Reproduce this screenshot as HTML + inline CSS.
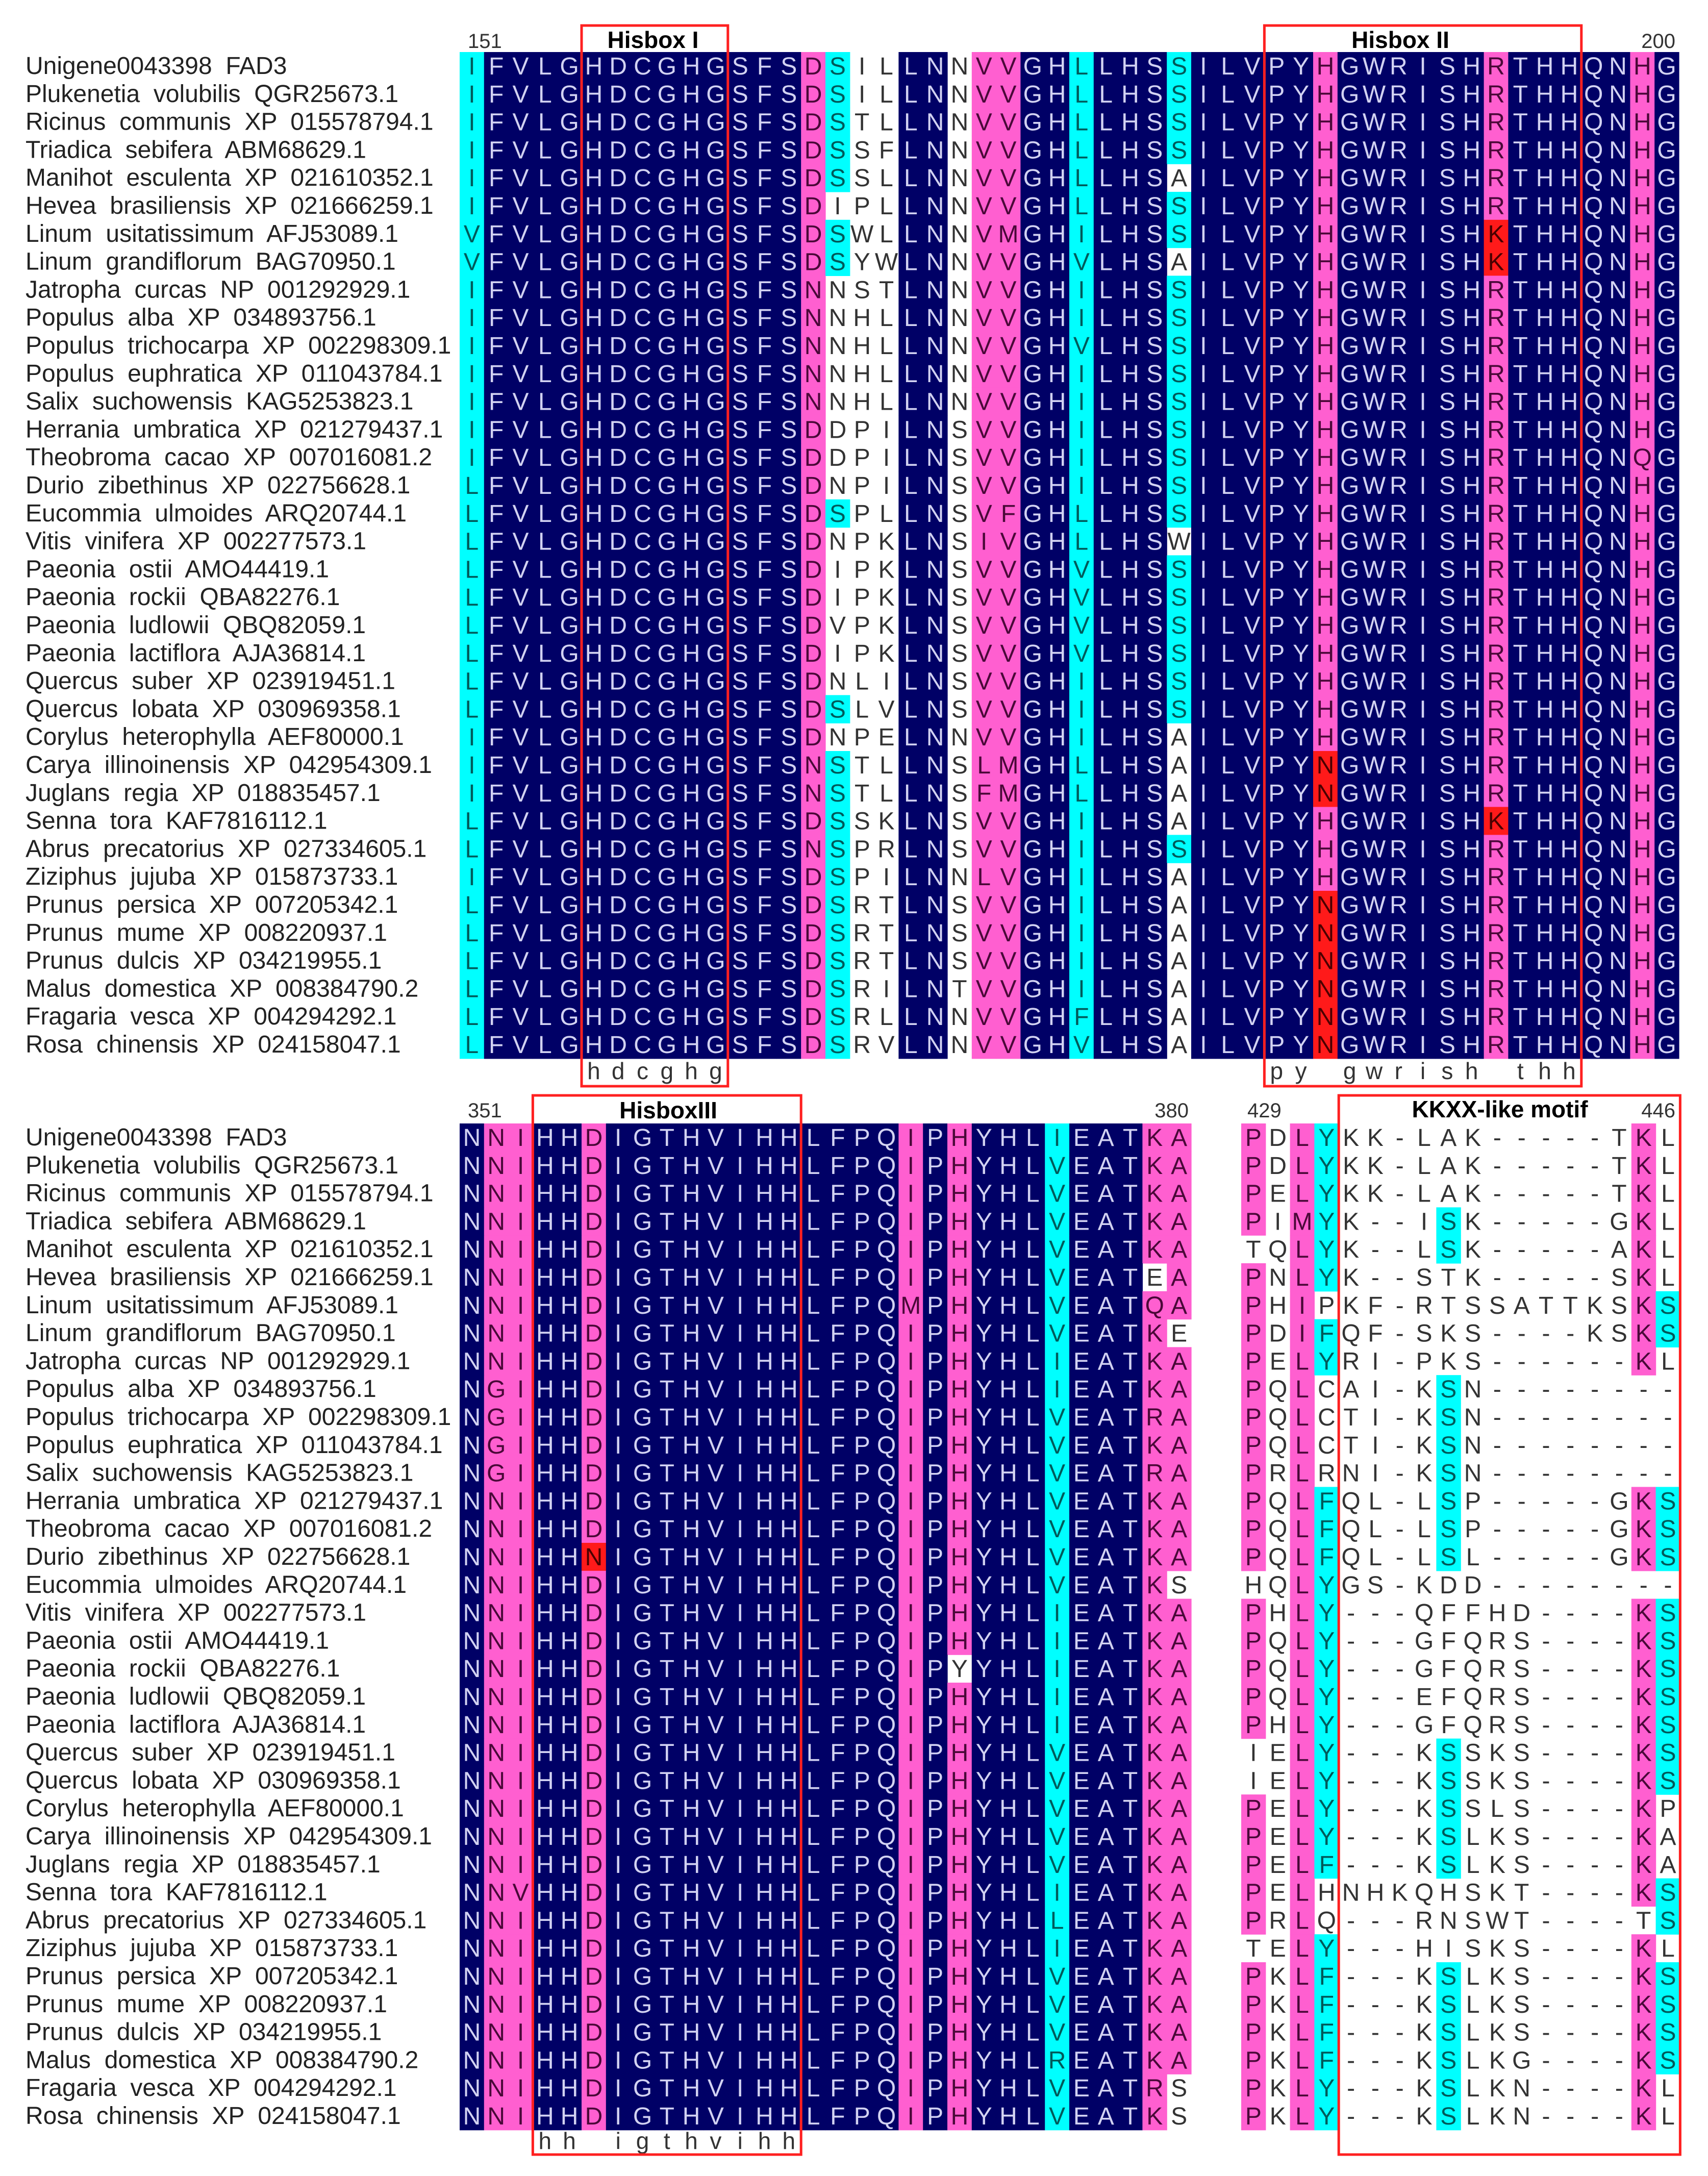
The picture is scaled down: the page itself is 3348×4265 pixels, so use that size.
<!DOCTYPE html>
<html><head><meta charset="utf-8"><title>FAD3 alignment</title>
<style>
html,body{margin:0;padding:0;background:#fff;}
svg{display:block;}
</style></head>
<body>
<svg id="fig" xmlns="http://www.w3.org/2000/svg" width="3348" height="4265" viewBox="0 0 3348 4265">
<rect x="0" y="0" width="3348" height="4265" fill="#ffffff"/>
<g id="cells"></g>
<g id="labels"></g>
<g id="boxes"></g>
</svg>
<script>
const names = [
"Unigene0043398  FAD3","Plukenetia  volubilis  QGR25673.1","Ricinus  communis  XP  015578794.1",
"Triadica  sebifera  ABM68629.1","Manihot  esculenta  XP  021610352.1","Hevea  brasiliensis  XP  021666259.1",
"Linum  usitatissimum  AFJ53089.1","Linum  grandiflorum  BAG70950.1","Jatropha  curcas  NP  001292929.1",
"Populus  alba  XP  034893756.1","Populus  trichocarpa  XP  002298309.1","Populus  euphratica  XP  011043784.1",
"Salix  suchowensis  KAG5253823.1","Herrania  umbratica  XP  021279437.1","Theobroma  cacao  XP  007016081.2",
"Durio  zibethinus  XP  022756628.1","Eucommia  ulmoides  ARQ20744.1","Vitis  vinifera  XP  002277573.1",
"Paeonia  ostii  AMO44419.1","Paeonia  rockii  QBA82276.1","Paeonia  ludlowii  QBQ82059.1",
"Paeonia  lactiflora  AJA36814.1","Quercus  suber  XP  023919451.1","Quercus  lobata  XP  030969358.1",
"Corylus  heterophylla  AEF80000.1","Carya  illinoinensis  XP  042954309.1","Juglans  regia  XP  018835457.1",
"Senna  tora  KAF7816112.1","Abrus  precatorius  XP  027334605.1","Ziziphus  jujuba  XP  015873733.1",
"Prunus  persica  XP  007205342.1","Prunus  mume  XP  008220937.1","Prunus  dulcis  XP  034219955.1",
"Malus  domestica  XP  008384790.2","Fragaria  vesca  XP  004294292.1","Rosa  chinensis  XP  024158047.1"];

const seqTop = [
"IFVLGHDCGHGSFSDSILLNNVVGHLLHSSILVPYHGWRISHRTHHQNHG",
"IFVLGHDCGHGSFSDSILLNNVVGHLLHSSILVPYHGWRISHRTHHQNHG",
"IFVLGHDCGHGSFSDSTLLNNVVGHLLHSSILVPYHGWRISHRTHHQNHG",
"IFVLGHDCGHGSFSDSSFLNNVVGHLLHSSILVPYHGWRISHRTHHQNHG",
"IFVLGHDCGHGSFSDSSLLNNVVGHLLHSAILVPYHGWRISHRTHHQNHG",
"IFVLGHDCGHGSFSDIPLLNNVVGHLLHSSILVPYHGWRISHRTHHQNHG",
"VFVLGHDCGHGSFSDSWLLNNVMGHILHSSILVPYHGWRISHKTHHQNHG",
"VFVLGHDCGHGSFSDSYWLNNVVGHVLHSAILVPYHGWRISHKTHHQNHG",
"IFVLGHDCGHGSFSNNSTLNNVVGHILHSSILVPYHGWRISHRTHHQNHG",
"IFVLGHDCGHGSFSNNHLLNNVVGHILHSSILVPYHGWRISHRTHHQNHG",
"IFVLGHDCGHGSFSNNHLLNNVVGHVLHSSILVPYHGWRISHRTHHQNHG",
"IFVLGHDCGHGSFSNNHLLNNVVGHILHSSILVPYHGWRISHRTHHQNHG",
"IFVLGHDCGHGSFSNNHLLNNVVGHILHSSILVPYHGWRISHRTHHQNHG",
"IFVLGHDCGHGSFSDDPILNSVVGHILHSSILVPYHGWRISHRTHHQNHG",
"IFVLGHDCGHGSFSDDPILNSVVGHILHSSILVPYHGWRISHRTHHQNQG",
"LFVLGHDCGHGSFSDNPILNSVVGHILHSSILVPYHGWRISHRTHHQNHG",
"LFVLGHDCGHGSFSDSPLLNSVFGHLLHSSILVPYHGWRISHRTHHQNHG",
"LFVLGHDCGHGSFSDNPKLNSIVGHLLHSWILVPYHGWRISHRTHHQNHG",
"LFVLGHDCGHGSFSDIPKLNSVVGHVLHSSILVPYHGWRISHRTHHQNHG",
"LFVLGHDCGHGSFSDIPKLNSVVGHVLHSSILVPYHGWRISHRTHHQNHG",
"LFVLGHDCGHGSFSDVPKLNSVVGHVLHSSILVPYHGWRISHRTHHQNHG",
"LFVLGHDCGHGSFSDIPKLNSVVGHVLHSSILVPYHGWRISHRTHHQNHG",
"LFVLGHDCGHGSFSDNLILNSVVGHILHSSILVPYHGWRISHRTHHQNHG",
"LFVLGHDCGHGSFSDSLVLNSVVGHILHSSILVPYHGWRISHRTHHQNHG",
"IFVLGHDCGHGSFSDNPELNNVVGHILHSAILVPYHGWRISHRTHHQNHG",
"IFVLGHDCGHGSFSNSTLLNSLMGHLLHSAILVPYNGWRISHRTHHQNHG",
"IFVLGHDCGHGSFSNSTLLNSFMGHLLHSAILVPYNGWRISHRTHHQNHG",
"LFVLGHDCGHGSFSDSSKLNSVVGHILHSAILVPYHGWRISHKTHHQNHG",
"LFVLGHDCGHGSFSNSPRLNSVVGHILHSSILVPYHGWRISHRTHHQNHG",
"IFVLGHDCGHGSFSDSPILNNLVGHILHSAILVPYHGWRISHRTHHQNHG",
"LFVLGHDCGHGSFSDSRTLNSVVGHILHSAILVPYNGWRISHRTHHQNHG",
"LFVLGHDCGHGSFSDSRTLNSVVGHILHSAILVPYNGWRISHRTHHQNHG",
"LFVLGHDCGHGSFSDSRTLNSVVGHILHSAILVPYNGWRISHRTHHQNHG",
"LFVLGHDCGHGSFSDSRILNTVVGHILHSAILVPYNGWRISHRTHHQNHG",
"LFVLGHDCGHGSFSDSRLLNNVVGHFLHSAILVPYNGWRISHRTHHQNHG",
"LFVLGHDCGHGSFSDSRVLNNVVGHVLHSAILVPYNGWRISHRTHHQNHG"];

const seqMid = [
"NNIHHDIGTHVIHHLFPQIPHYHLIEATKA","NNIHHDIGTHVIHHLFPQIPHYHLVEATKA","NNIHHDIGTHVIHHLFPQIPHYHLVEATKA",
"NNIHHDIGTHVIHHLFPQIPHYHLVEATKA","NNIHHDIGTHVIHHLFPQIPHYHLVEATKA","NNIHHDIGTHVIHHLFPQIPHYHLVEATEA",
"NNIHHDIGTHVIHHLFPQMPHYHLVEATQA","NNIHHDIGTHVIHHLFPQIPHYHLVEATKE","NNIHHDIGTHVIHHLFPQIPHYHLIEATKA",
"NGIHHDIGTHVIHHLFPQIPHYHLIEATKA","NGIHHDIGTHVIHHLFPQIPHYHLVEATRA","NGIHHDIGTHVIHHLFPQIPHYHLVEATKA",
"NGIHHDIGTHVIHHLFPQIPHYHLVEATRA","NNIHHDIGTHVIHHLFPQIPHYHLVEATKA","NNIHHDIGTHVIHHLFPQIPHYHLVEATKA",
"NNIHHNIGTHVIHHLFPQIPHYHLVEATKA","NNIHHDIGTHVIHHLFPQIPHYHLVEATKS","NNIHHDIGTHVIHHLFPQIPHYHLIEATKA",
"NNIHHDIGTHVIHHLFPQIPHYHLIEATKA","NNIHHDIGTHVIHHLFPQIPYYHLIEATKA","NNIHHDIGTHVIHHLFPQIPHYHLIEATKA",
"NNIHHDIGTHVIHHLFPQIPHYHLIEATKA","NNIHHDIGTHVIHHLFPQIPHYHLVEATKA","NNIHHDIGTHVIHHLFPQIPHYHLVEATKA",
"NNIHHDIGTHVIHHLFPQIPHYHLVEATKA","NNIHHDIGTHVIHHLFPQIPHYHLVEATKA","NNIHHDIGTHVIHHLFPQIPHYHLVEATKA",
"NNVHHDIGTHVIHHLFPQIPHYHLIEATKA","NNIHHDIGTHVIHHLFPQIPHYHLLEATKA","NNIHHDIGTHVIHHLFPQIPHYHLIEATKA",
"NNIHHDIGTHVIHHLFPQIPHYHLVEATKA","NNIHHDIGTHVIHHLFPQIPHYHLVEATKA","NNIHHDIGTHVIHHLFPQIPHYHLVEATKA",
"NNIHHDIGTHVIHHLFPQIPHYHLREATKA","NNIHHDIGTHVIHHLFPQIPHYHLVEATRS","NNIHHDIGTHVIHHLFPQIPHYHLVEATKS"];

const seqEnd = [
"PDLYKK-LAK-----TKL","PDLYKK-LAK-----TKL","PELYKK-LAK-----TKL","PIMYK--ISK-----GKL",
"TQLYK--LSK-----AKL","PNLYK--STK-----SKL","PHIPKF-RTSSATTKSKS","PDIFQF-SKS----KSKS",
"PELYRI-PKS------KL","PQLCAI-KSN--------","PQLCTI-KSN--------","PQLCTI-KSN--------",
"PRLRNI-KSN--------","PQLFQL-LSP-----GKS","PQLFQL-LSP-----GKS","PQLFQL-LSL-----GKS",
"HQLYGS-KDD--------","PHLY---QFFHD----KS","PQLY---GFQRS----KS","PQLY---GFQRS----KS",
"PQLY---EFQRS----KS","PHLY---GFQRS----KS","IELY---KSSKS----KS","IELY---KSSKS----KS",
"PELY---KSSLS----KP","PELY---KSLKS----KA","PELF---KSLKS----KA","PELHNHKQHSKT----KS",
"PRLQ---RNSWT----TS","TELY---HISKS----KL","PKLF---KSLKS----KS","PKLF---KSLKS----KS",
"PKLF---KSLKS----KS","PKLF---KSLKG----KS","PKLY---KSLKN----KL","PKLY---KSLKN----KL"];

const consTop = "     hdcghg                      py gwrish thh    ";
const consMid = "   hh igthvihh                ";
const posLabels = ["151","200","351","380","429","446"];
const boxTitles = ["Hisbox I","Hisbox II","HisboxIII","KKXX-like motif"];

const NS="http://www.w3.org/2000/svg";
const NAVY="#000066", MAG="#ff5fd0", CYAN="#00ffff", RED="#ff1a1a", WHITE="#ffffff";
const CW=47.8, RH=54.8;
const TOP={x0:901,y0:102}, MID={x0:901,y0:2202}, END={x0:2433,y0:2202};

function bgTop(c,ch){
  if(c===0) return CYAN;
  if(c>=1&&c<=13) return NAVY;
  if(c===14) return MAG;
  if(c===15) return ch==='S'?CYAN:WHITE;
  if(c===16||c===17||c===20) return WHITE;
  if(c===18||c===19) return NAVY;
  if(c===21||c===22) return MAG;
  if(c===23||c===24) return NAVY;
  if(c===25) return CYAN;
  if(c>=26&&c<=28) return NAVY;
  if(c===29) return ch==='S'?CYAN:WHITE;
  if(c>=30&&c<=34) return NAVY;
  if(c===35) return ch==='N'?RED:MAG;
  if(c>=36&&c<=41) return NAVY;
  if(c===42) return ch==='K'?RED:MAG;
  if(c>=43&&c<=47) return NAVY;
  if(c===48) return MAG;
  return NAVY;
}
function bgMid(c,ch){
  if(c===0) return NAVY;
  if(c===1||c===2) return MAG;
  if(c===3||c===4) return NAVY;
  if(c===5) return ch==='N'?RED:MAG;
  if(c>=6&&c<=17) return NAVY;
  if(c===18) return MAG;
  if(c===19) return NAVY;
  if(c===20) return ch==='H'?MAG:WHITE;
  if(c>=21&&c<=23) return NAVY;
  if(c===24) return CYAN;
  if(c>=25&&c<=27) return NAVY;
  if(c===28) return ch==='E'?WHITE:MAG;
  if(c===29) return ch==='A'?MAG:WHITE;
  return NAVY;
}
function bgEnd(c,ch){
  if(c===0) return ch==='P'?MAG:WHITE;
  if(c===2) return MAG;
  if(c===3) return (ch==='Y'||ch==='F')?CYAN:WHITE;
  if(c===8) return ch==='S'?CYAN:WHITE;
  if(c===16) return ch==='K'?MAG:WHITE;
  if(c===17) return ch==='S'?CYAN:WHITE;
  return WHITE;
}
function fg(bg){
  if(bg===NAVY) return "#d2d2f2";
  if(bg===MAG) return "#4a0838";
  if(bg===CYAN) return "#005a5a";
  if(bg===RED) return "#4a0000";
  return "#333333";
}
function mk(tag,attrs,parent){
  const e=document.createElementNS(NS,tag);
  for(const k in attrs) e.setAttribute(k,attrs[k]);
  parent.appendChild(e);
  return e;
}
const cells=document.getElementById('cells');
const labels=document.getElementById('labels');
const boxes=document.getElementById('boxes');

function drawBlock(seqs,blk,bgFn,key){
  const g=mk('g',{},cells);
  
  
  seqs.forEach((s,r)=>{
    for(let c=0;c<s.length;c++){
      const ch=s[c];
      const bg=bgFn(c,ch);
      const x=blk.x0+c*CW, y=blk.y0+r*RH;
      if(bg!==WHITE){
        const rc=mk('rect',{x:x.toFixed(1),y:y.toFixed(1),width:(CW+0.6).toFixed(1),height:(RH+0.6).toFixed(1),fill:bg},g);
        
        
      }
      const t=mk('text',{x:(x+CW/2).toFixed(1),y:(y+44).toFixed(1),'text-anchor':'middle','font-size':'48','font-family':'Liberation Sans, sans-serif',fill:fg(bg)},g);
      
      
      t.textContent=ch;
    }
  });
}
drawBlock(seqTop,TOP,bgTop,'hisbox12');
drawBlock(seqMid,MID,bgMid,'hisbox3');
drawBlock(seqEnd,END,bgEnd,'kkxx');

function drawNames(blk,key){
  names.forEach((n,r)=>{
    const t=mk('text',{x:'50',y:(blk.y0+r*RH+43).toFixed(1),'font-size':'48','font-family':'Liberation Sans, sans-serif',fill:'#222','xml:space':'preserve'},labels);
    
    
    t.style.whiteSpace='pre';
    t.textContent=n;
  });
}
drawNames(TOP,'top');
drawNames(MID,'bottom');

function drawCons(str,blk,y){
  for(let c=0;c<str.length;c++){
    if(str[c]===' ') continue;
    const t=mk('text',{x:(blk.x0+c*CW+CW/2).toFixed(1),y:y,'text-anchor':'middle','font-size':'46','font-family':'Liberation Sans, sans-serif',fill:'#333'},labels);
    
    
    t.textContent=str[c];
  }
}
drawCons(consTop,TOP,2115);
drawCons(consMid,MID,4212);

function label(txt,x,y,anchor,size,weight,name){
  const t=mk('text',{x:x,y:y,'text-anchor':anchor,'font-size':size,'font-weight':weight,'font-family':'Liberation Sans, sans-serif',fill:weight==='bold'?'#000':'#333'},labels);
  
  
  t.textContent=txt;
}
label(posLabels[0],917,94,'start','40','normal','position-151');
label(posLabels[1],3284,94,'end','40','normal','position-200');
label(posLabels[2],917,2190,'start','40','normal','position-351');
label(posLabels[3],2330,2190,'end','40','normal','position-380');
label(posLabels[4],2445,2190,'start','40','normal','position-429');
label(posLabels[5],3284,2190,'end','40','normal','position-446');
label(boxTitles[0],1280,94,'middle','46','bold','hisbox-1-title');
label(boxTitles[1],2745,94,'middle','46','bold','hisbox-2-title');
label(boxTitles[2],1310,2192,'middle','46','bold','hisbox-3-title');
label(boxTitles[3],2940,2190,'middle','46','bold','kkxx-motif-title');

function box(x1,y1,x2,y2,name){
  const r=mk('rect',{x:x1,y:y1,width:x2-x1,height:y2-y1,fill:'none',stroke:'#ff2020','stroke-width':'5'},boxes);
  
  
}
box(TOP.x0+5*CW,50,TOP.x0+11*CW,2129,'hisbox-1-box');
box(TOP.x0+33*CW,50,TOP.x0+46*CW,2129,'hisbox-2-box');
box(MID.x0+3*CW,2147,MID.x0+14*CW,4223,'hisbox-3-box');
box(END.x0+4*CW,2147,END.x0+18*CW,4223,'kkxx-motif-box');
</script>
</body></html>
